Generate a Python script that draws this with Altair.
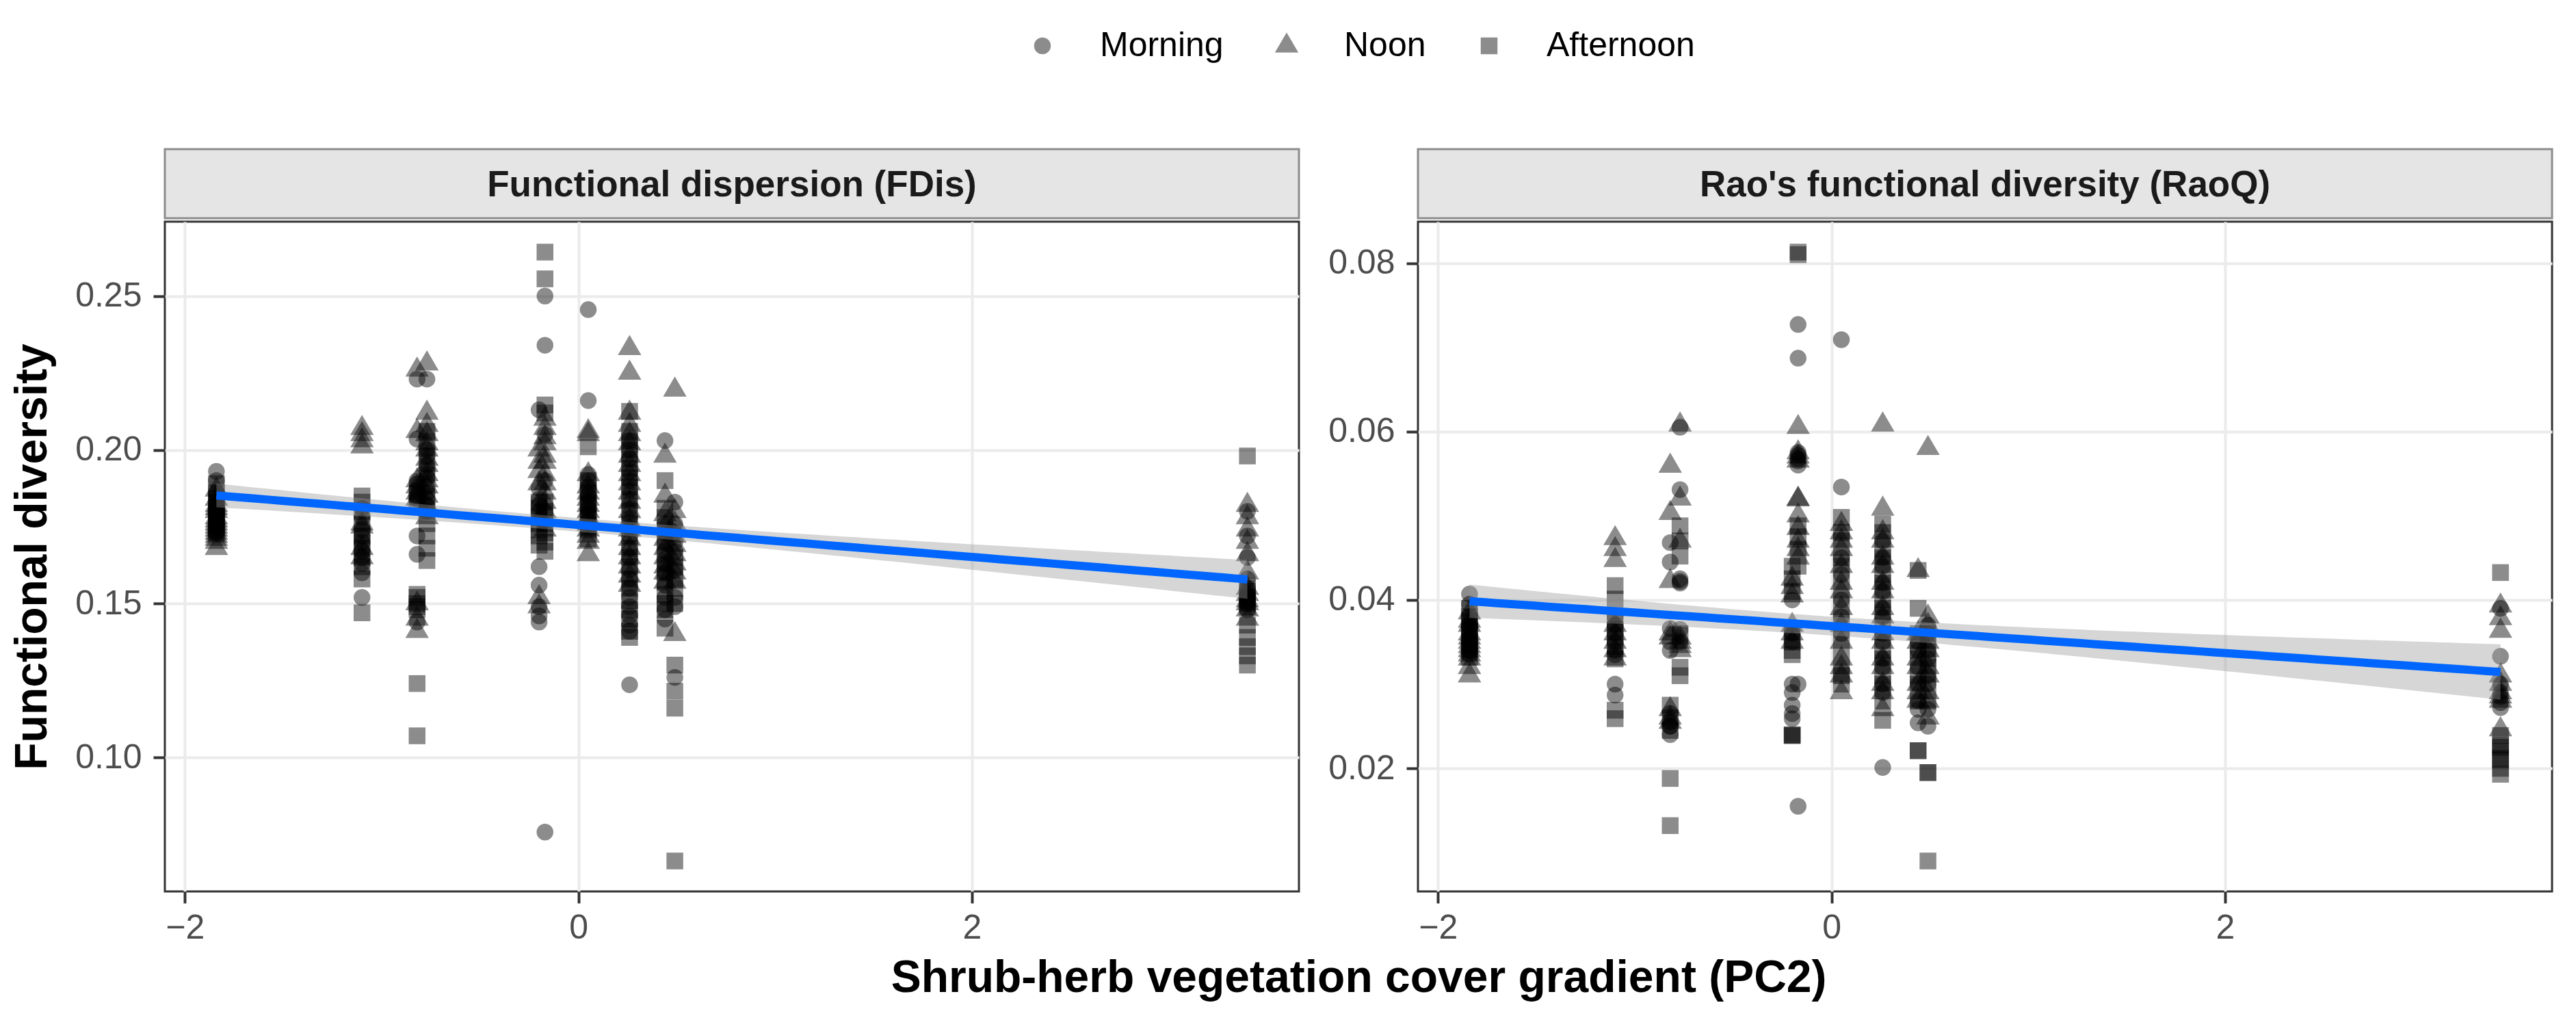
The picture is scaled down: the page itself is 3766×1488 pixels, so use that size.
import altair as alt
import numpy as np
import pandas as pd

FONT = "Liberation Sans"

# PC2 score of each site (x positions of the point columns)
SITES = [-1.84, -1.10, -0.82, -0.77, -0.20, -0.17, 0.05, 0.26, 0.44, 0.49, 3.40]
TIMES = ["Morning", "Noon", "Afternoon"]
# ggplot's filled triangle is drawn larger than its circle and square: use a wider triangle path
TRIANGLE = "M0,-1.6L1.4,0.8L-1.4,0.8Z"
SHAPES = ["circle", TRIANGLE, "square"]

PANEL_TITLES = ["Functional dispersion (FDis)", "Rao's functional diversity (RaoQ)"]
X_TITLE = "Shrub-herb vegetation cover gradient (PC2)"
Y_TITLE = "Functional diversity"
X_TICKS = [-2, 0, 2]
FDIS_TICKS = [0.10, 0.15, 0.20, 0.25]
RAOQ_TICKS = [0.02, 0.04, 0.06, 0.08]

# ---- Functional dispersion (one list per site, same order as SITES) ----
FDIS_MORNING = [
    [0.193, 0.190, 0.186, 0.185, 0.183, 0.182, 0.181, 0.180, 0.179, 0.178, 0.177, 0.176, 0.175, 0.173],
    [0.181, 0.178, 0.174, 0.172, 0.170, 0.167, 0.165, 0.163, 0.160, 0.152],
    [0.223, 0.2035, 0.190, 0.189, 0.187, 0.185, 0.184, 0.172, 0.166, 0.144],
    [0.223, 0.200, 0.198, 0.195, 0.193, 0.191, 0.188, 0.186, 0.184, 0.182, 0.180],
    [0.213, 0.1875, 0.184, 0.182, 0.180, 0.162, 0.156, 0.149, 0.146, 0.144],
    [0.250, 0.234, 0.205, 0.190, 0.180, 0.0757],
    [0.2456, 0.216, 0.192, 0.190, 0.188, 0.185, 0.183, 0.181, 0.179, 0.177],
    [0.203, 0.200, 0.197, 0.193, 0.190, 0.187, 0.184, 0.181, 0.178, 0.175, 0.172, 0.168, 0.165,
     0.161, 0.158, 0.155, 0.152, 0.149, 0.146, 0.143, 0.141, 0.1236],
    [0.203, 0.176, 0.173, 0.170, 0.167, 0.163, 0.160, 0.156, 0.152, 0.148, 0.145],
    [0.183, 0.176, 0.173, 0.170, 0.167, 0.161, 0.152, 0.149, 0.126],
    [0.180, 0.172, 0.165, 0.158, 0.155, 0.153, 0.152, 0.151, 0.150, 0.148],
]
FDIS_NOON = [
    [0.187, 0.184, 0.182, 0.181, 0.180, 0.178, 0.177, 0.176, 0.175, 0.174, 0.173, 0.172, 0.171, 0.170, 0.168],
    [0.207, 0.205, 0.203, 0.201, 0.176, 0.175, 0.168, 0.165],
    [0.226, 0.206, 0.190, 0.188, 0.186, 0.184, 0.150, 0.145, 0.141],
    [0.228, 0.212, 0.208, 0.205, 0.202, 0.200, 0.197, 0.195, 0.192, 0.190, 0.188, 0.185, 0.182, 0.178],
    [0.200, 0.196, 0.193, 0.189, 0.178, 0.152, 0.149],
    [0.210, 0.207, 0.204, 0.202, 0.198, 0.196, 0.192, 0.189, 0.186, 0.183, 0.180, 0.174],
    [0.206, 0.205, 0.192, 0.188, 0.186, 0.184, 0.182, 0.180, 0.178, 0.176, 0.174, 0.172, 0.170, 0.166],
    [0.233, 0.225, 0.212, 0.208, 0.205, 0.202, 0.198, 0.195, 0.192, 0.189, 0.186, 0.183, 0.180,
     0.177, 0.174, 0.171, 0.168, 0.165, 0.162, 0.159, 0.156],
    [0.198, 0.185, 0.179, 0.175, 0.171, 0.168, 0.165, 0.162, 0.160, 0.157],
    [0.2195, 0.180, 0.176, 0.172, 0.169, 0.166, 0.163, 0.160, 0.157, 0.140],
    [0.182, 0.178, 0.174, 0.170, 0.166, 0.160, 0.155, 0.153, 0.151, 0.150, 0.148, 0.145],
]
FDIS_AFTERNOON = [
    [0.189, 0.186, 0.184, 0.183, 0.181, 0.180, 0.179, 0.178, 0.177, 0.176, 0.175, 0.174, 0.173],
    [0.185, 0.183, 0.180, 0.176, 0.172, 0.170, 0.168, 0.165, 0.162, 0.158, 0.147],
    [0.186, 0.183, 0.153, 0.152, 0.150, 0.149, 0.148, 0.124, 0.107],
    [0.206, 0.203, 0.198, 0.192, 0.185, 0.180, 0.176, 0.172, 0.168, 0.164],
    [0.183, 0.181, 0.178, 0.176, 0.174, 0.172, 0.169],
    [0.2643, 0.2556, 0.2146, 0.212, 0.183, 0.180, 0.176, 0.173, 0.170, 0.167],
    [0.201, 0.190, 0.187, 0.186, 0.183, 0.182, 0.179, 0.178, 0.175, 0.174, 0.171],
    [0.2125, 0.206, 0.203, 0.200, 0.197, 0.194, 0.191, 0.188, 0.184, 0.180, 0.176, 0.172, 0.168,
     0.165, 0.162, 0.158, 0.155, 0.151, 0.148, 0.145, 0.141, 0.139],
    [0.190, 0.181, 0.178, 0.174, 0.170, 0.166, 0.163, 0.160, 0.157, 0.153, 0.150, 0.148, 0.142],
    [0.165, 0.162, 0.158, 0.155, 0.150, 0.130, 0.1215, 0.116, 0.0663],
    [0.198, 0.155, 0.154, 0.152, 0.151, 0.150, 0.149, 0.143, 0.139, 0.136, 0.133, 0.130],
]

# ---- Rao's quadratic entropy ----
RAOQ_MORNING = [
    [0.0407, 0.0395, 0.038, 0.037, 0.0368, 0.036, 0.0355, 0.035, 0.0345, 0.034, 0.0335],
    [0.038, 0.037, 0.036, 0.035, 0.034, 0.0335, 0.030, 0.0287],
    [0.0468, 0.0445, 0.0366, 0.035, 0.034, 0.0265, 0.0255, 0.025, 0.025, 0.024],
    [0.0605, 0.0531, 0.0425, 0.0422, 0.042, 0.0365, 0.035],
    [0.040, 0.036, 0.035, 0.030, 0.029, 0.0275, 0.0265, 0.0259],
    [0.0727, 0.0687, 0.0575, 0.0572, 0.0568, 0.0565, 0.056, 0.030, 0.0155],
    [0.0709, 0.0534, 0.045, 0.043, 0.040, 0.038, 0.036],
    [0.047, 0.045, 0.044, 0.042, 0.041, 0.039, 0.038, 0.036, 0.035, 0.033, 0.032, 0.030, 0.029, 0.0201],
    [0.035, 0.034, 0.032, 0.030, 0.028, 0.027, 0.0254],
    [0.037, 0.036, 0.034, 0.033, 0.031, 0.030, 0.027, 0.025],
    [0.0390, 0.0333, 0.030, 0.029, 0.0285, 0.0278, 0.0272],
]
RAOQ_NOON = [
    [0.0385, 0.0375, 0.037, 0.036, 0.0355, 0.035, 0.0345, 0.034, 0.0335, 0.033, 0.032, 0.031],
    [0.0473, 0.046, 0.0447, 0.037, 0.036, 0.035, 0.034, 0.033],
    [0.0559, 0.0503, 0.0422, 0.036, 0.0355, 0.027, 0.026, 0.0255],
    [0.0608, 0.052, 0.047, 0.0355, 0.035, 0.0345, 0.034],
    [0.0425, 0.0415, 0.0405, 0.037, 0.036, 0.035],
    [0.0605, 0.0575, 0.057, 0.0565, 0.052, 0.0519, 0.050, 0.0485, 0.047, 0.046, 0.045],
    [0.049, 0.048, 0.047, 0.046, 0.044, 0.042, 0.041, 0.039, 0.037, 0.035, 0.033, 0.032, 0.031, 0.029],
    [0.0608, 0.0508, 0.048, 0.047, 0.045, 0.044, 0.042, 0.041, 0.039, 0.038, 0.036, 0.035, 0.033,
     0.032, 0.030, 0.029, 0.027],
    [0.0435, 0.036, 0.035, 0.033, 0.032, 0.030, 0.029, 0.028],
    [0.058, 0.038, 0.037, 0.035, 0.034, 0.032, 0.031, 0.029, 0.028, 0.026],
    [0.0393, 0.0378, 0.0363, 0.031, 0.030, 0.029, 0.0285, 0.028, 0.0246],
]
RAOQ_AFTERNOON = [
    [0.039, 0.038, 0.0375, 0.0368, 0.0362, 0.0355, 0.035, 0.0345, 0.034, 0.0332],
    [0.0417, 0.0401, 0.0375, 0.0365, 0.0355, 0.0345, 0.033, 0.0269, 0.0259],
    [0.0275, 0.026, 0.0245, 0.0188, 0.0132],
    [0.0488, 0.047, 0.0452, 0.036, 0.032, 0.031],
    [0.0440, 0.0425, 0.041, 0.036, 0.035, 0.034, 0.0335, 0.0239, 0.0239, 0.024],
    [0.0813, 0.0810, 0.0488, 0.0475, 0.046, 0.044],
    [0.0498, 0.048, 0.047, 0.045, 0.044, 0.042, 0.040, 0.038, 0.036, 0.034, 0.032, 0.031, 0.030],
    [0.049, 0.048, 0.046, 0.045, 0.043, 0.042, 0.040, 0.039, 0.037, 0.036, 0.034, 0.033, 0.031,
     0.030, 0.028, 0.0257],
    [0.0435, 0.039, 0.036, 0.034, 0.033, 0.031, 0.030, 0.028, 0.0221, 0.0221],
    [0.036, 0.035, 0.033, 0.032, 0.030, 0.028, 0.0195, 0.0195, 0.0090],
    [0.04325, 0.0239, 0.0228, 0.0225, 0.022, 0.0212, 0.021, 0.020, 0.0193],
]

# ---------------- layout constants ----------------
PW, PH = 1658, 979      # plot area of each panel
STRIP_H = 101
TICK_FS = 50
TITLE_FS = 66
PT_SIZE = 600
LINE_BLUE = "#0066FF"


def long_table(by_time):
    rows = []
    for time, per_site in zip(TIMES, by_time):
        for sx, vals in zip(SITES, per_site):
            for v in vals:
                rows.append({"x": sx, "y": v, "time": time})
    return pd.DataFrame(rows)


def ols_band(df, n=80, t=1.97):
    x = df["x"].to_numpy(float)
    y = df["y"].to_numpy(float)
    N = len(x)
    xm = x.mean()
    sxx = ((x - xm) ** 2).sum()
    b = ((x - xm) * (y - y.mean())).sum() / sxx
    a = y.mean() - b * xm
    s = np.sqrt(((y - (a + b * x)) ** 2).sum() / (N - 2))
    g = np.linspace(x.min(), x.max(), n)
    f = a + b * g
    se = s * np.sqrt(1.0 / N + (g - xm) ** 2 / sxx)
    return pd.DataFrame({"x": g, "fit": f, "lo": f - t * se, "hi": f + t * se})


def expand(lo, hi, m=0.05):
    r = hi - lo
    return [lo - m * r, hi + m * r]


fdis = long_table([FDIS_MORNING, FDIS_NOON, FDIS_AFTERNOON])
raoq = long_table([RAOQ_MORNING, RAOQ_NOON, RAOQ_AFTERNOON])
XDOM = expand(min(SITES), max(SITES))


def strip(label):
    d = pd.DataFrame({"label": [label]})
    rect = alt.Chart(d).mark_rect(fill="#E5E5E5", stroke="#8C8C8C", strokeWidth=3).encode(
        x=alt.value(0), x2=alt.value(PW), y=alt.value(0), y2=alt.value(STRIP_H)
    )
    txt = alt.Chart(d).mark_text(
        font=FONT, fontSize=53, fontWeight="bold", color="#1A1A1A", baseline="middle", align="center"
    ).encode(text="label:N", x=alt.value(PW / 2), y=alt.value(STRIP_H / 2 + 2))
    return alt.layer(rect, txt).properties(
        width=PW, height=STRIP_H, view=alt.ViewBackground(stroke="transparent")
    )


def legend():
    return alt.Legend(
        orient="none", legendX=1258, legendY=-176, direction="horizontal", title=None,
        labelFont=FONT, labelFontSize=50, labelColor="black", labelOffset=59, labelLimit=1000,
        columnPadding=67, symbolSize=PT_SIZE, symbolOpacity=0.45, symbolFillColor="black",
        symbolStrokeWidth=0,
    )


def panel(df, ticks, ytitle):
    fit = ols_band(df)
    ydom = expand(df["y"].min(), df["y"].max())
    xenc = alt.X("x:Q", scale=alt.Scale(domain=XDOM, nice=False, zero=False),
                 axis=alt.Axis(values=X_TICKS, format="d", title=None, labelPadding=11))
    yaxis_kw = dict(values=ticks, format=".2f", labelPadding=17)
    if ytitle:
        yaxis_kw.update(title=ytitle, titlePadding=28)
    else:
        yaxis_kw.update(title=None)
    yenc = alt.Y("y:Q", scale=alt.Scale(domain=ydom, nice=False, zero=False),
                 axis=alt.Axis(**yaxis_kw))
    pts = alt.Chart(df).mark_point(filled=True, color="black", opacity=0.45, size=PT_SIZE,
                                   strokeWidth=0).encode(
        x=xenc, y=yenc,
        shape=alt.Shape("time:N", scale=alt.Scale(domain=TIMES, range=SHAPES), legend=legend()),
    )
    band = alt.Chart(fit).mark_area(color="#999999", opacity=0.4).encode(
        x="x:Q", y="lo:Q", y2="hi:Q")
    line = alt.Chart(fit).mark_line(color=LINE_BLUE, strokeWidth=12).encode(
        x="x:Q", y="fit:Q")
    return alt.layer(pts, band, line).properties(width=PW, height=PH)


col1 = alt.vconcat(strip(PANEL_TITLES[0]), panel(fdis, FDIS_TICKS, Y_TITLE), spacing=0)
col2 = alt.vconcat(strip(PANEL_TITLES[1]), panel(raoq, RAOQ_TICKS, None), spacing=0)

chart = alt.hconcat(col1, col2, spacing=38).properties(
    title=alt.TitleParams(X_TITLE, orient="bottom", anchor="middle", font=FONT,
                          fontSize=TITLE_FS, fontWeight="bold", color="black",
                          offset=15, dx=113),
    padding={"left": 5, "top": 34, "right": 5, "bottom": 5},
    background="white",
).configure_view(
    stroke="#333333", strokeWidth=3
).configure_axis(
    grid=True, gridColor="#EBEBEB", gridWidth=4, domain=False,
    tickColor="#333333", tickWidth=4, tickSize=17,
    labelFont=FONT, labelFontSize=TICK_FS, labelColor="#4D4D4D",
    titleFont=FONT, titleFontSize=TITLE_FS, titleFontWeight="bold", titleColor="black",
)

chart.save("out.html", embed_options={"renderer": "svg", "actions": False})
